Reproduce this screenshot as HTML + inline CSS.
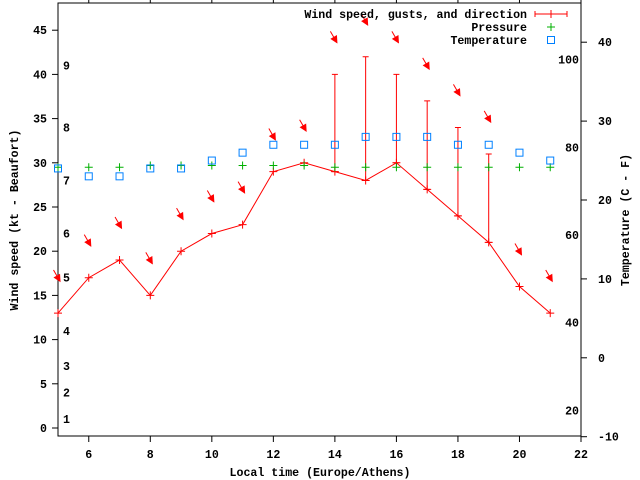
<!DOCTYPE html>
<html><head><meta charset="utf-8"><style>
body{margin:0;background:#fff}
svg{display:block}
text{font-family:"Liberation Mono",monospace;font-weight:bold;font-size:11.6px;fill:#000}
</style></head><body>
<svg id="chart" width="640" height="480" viewBox="0 0 640 480" xmlns="http://www.w3.org/2000/svg">
<rect x="0" y="0" width="640" height="480" fill="#fff"/>
<g id="axes"></g><g id="marks"></g><g id="legend"></g>
</svg>
<script>
const hours = [5,6,7,8,9,10,11,12,13,14,15,16,17,18,19,20,21];
const windSpeed = [13,17,19,15,20,22,23,29,30,29,28,30,27,24,21,16,13];
const windGust = [13,17,19,15,20,22,23,29,30,40,42,40,37,34,31,16,13];
const windDir = [330,330,330,330,330,330,330,330,330,330,330,330,330,330,330,330,330];
const pressure = [29.5,29.5,29.5,29.7,29.7,29.7,29.7,29.7,29.7,29.5,29.5,29.5,29.5,29.5,29.5,29.5,29.5];
const temperature = [24,23,23,24,24,25,26,27,27,27,28,28,28,27,27,26,25];
const xTicks = [6,8,10,12,14,16,18,20,22];
const yTicks = [0,5,10,15,20,25,30,35,40,45];
const y2Ticks = [-10,0,10,20,30,40];
const fLabels = [20,40,60,80,100];
const beaufortLabels = [1,2,3,4,5,6,7,8,9];
const beaufortKt = [1,4,7,11,17,22,28,34,41];

const L=58,R=581,T=3,B=436;
const X=h=>L+(h-5)*(R-L)/17;
const Y=v=>428-v*8.84;
const Y2=c=>436.7-(c+10)*7.89;
const NS="http://www.w3.org/2000/svg";
function mk(tag,attrs,parent,txt){const e=document.createElementNS(NS,tag);for(const k in attrs)e.setAttribute(k,attrs[k]);if(txt!==undefined)e.textContent=txt;parent.appendChild(e);return e;}
const axes=document.getElementById('axes'),marks=document.getElementById('marks'),legend=document.getElementById('legend');

let e=mk('rect',{x:L,y:T,width:R-L,height:B-T,fill:'none',stroke:'#000','stroke-width':1},axes);


xTicks.forEach(h=>{
  mk('line',{x1:X(h),x2:X(h),y1:B,y2:B+6,stroke:'#000'},axes);
  mk('line',{x1:X(h),x2:X(h),y1:T,y2:T-6,stroke:'#000'},axes);
  let t=mk('text',{x:X(h),y:458,'text-anchor':'middle'},axes,h);
  
  
});
yTicks.forEach(v=>{
  mk('line',{x1:L-6,x2:L,y1:Y(v),y2:Y(v),stroke:'#000'},axes);
  let t=mk('text',{x:47,y:Y(v)+4,'text-anchor':'end'},axes,v);
  
  
});
y2Ticks.forEach(v=>{
  mk('line',{x1:R,x2:R+6,y1:Y2(v),y2:Y2(v),stroke:'#000'},axes);
  let t=mk('text',{x:598,y:Y2(v)+4,'text-anchor':'start'},axes,v);
  
  
});
fLabels.forEach(f=>{
  let t=mk('text',{x:579,y:Y2((f-32)*5/9)+4,'text-anchor':'end'},axes,f);
  
  
});
beaufortLabels.forEach((b,i)=>{
  let t=mk('text',{x:63,y:Y(beaufortKt[i])+4},axes,b);
  
  
});
let t=mk('text',{x:320,y:476,'text-anchor':'middle'},axes,'Local time (Europe/Athens)');


t=mk('text',{x:0,y:0,'text-anchor':'middle',transform:'translate(18,220) rotate(-90)'},axes,'Wind speed (kt - Beaufort)');


t=mk('text',{x:0,y:0,'text-anchor':'middle',transform:'translate(629,220) rotate(-90)'},axes,'Temperature (C - F)');



const red='#ff0000',green='#00b000',blue='#0080ff';
// wind line
let p=mk('polyline',{points:hours.map((h,i)=>X(h)+','+Y(windSpeed[i])).join(' '),fill:'none',stroke:red,'stroke-width':1},marks);


hours.forEach((h,i)=>{
  const x=X(h),y=Y(windSpeed[i]);
  let g=mk('g',{},marks);
  
  
  mk('path',{d:`M${x-4},${y}H${x+4}M${x},${y-4}V${y+4}`,stroke:red},g);
  if(windGust[i]>windSpeed[i]){
    const yg=Y(windGust[i]);
    mk('path',{d:`M${x},${y}V${yg}M${x-3},${yg}H${x+3}M${x-3},${y}H${x+3}`,stroke:red},g);
  }
  // direction arrow placed above gust
  const ya=Y(windGust[i]+3.6),xa=x+2;
  const a=(windDir[i])*Math.PI/180;
  const len=13,dx=Math.sin(a)*len,dy=-Math.cos(a)*len;
  const tx=xa+dx,ty=ya+dy;
  let ar=mk('g',{},marks);
  
  
  mk('line',{x1:tx,y1:ty,x2:xa,y2:ya,stroke:red},ar);
  const ux=-dx/len,uy=-dy/len,px=-uy,py=ux;
  mk('polygon',{points:`${xa},${ya} ${xa-ux*6+px*3},${ya-uy*6+py*3} ${xa-ux*6-px*3},${ya-uy*6-py*3}`,fill:red,stroke:red},ar);
});
hours.forEach((h,i)=>{
  const x=X(h),y=Y(pressure[i]);
  let g=mk('path',{d:`M${x-4},${y}H${x+4}M${x},${y-4}V${y+4}`,stroke:green},marks);
  
  
});
hours.forEach((h,i)=>{
  const x=X(h),y=Y2(temperature[i]);
  let g=mk('rect',{x:x-3.5,y:y-3.5,width:7,height:7,fill:'none',stroke:blue},marks);
  
  
});
// legend
[['Wind speed, gusts, and direction',14,'legend-wind'],['Pressure',27,'legend-pressure'],['Temperature',40,'legend-temperature']].forEach(([s,y,n])=>{
  let tt=mk('text',{x:527,y:y+4,'text-anchor':'end'},legend,s);
  
  
});
mk('path',{d:'M535,14H567M535,11V17M567,11V17M551,10V18',stroke:red},legend);
mk('path',{d:'M547,27H555M551,23V31',stroke:green},legend);
mk('rect',{x:547.5,y:36.5,width:7,height:7,fill:'none',stroke:blue},legend);
</script>
</body></html>
